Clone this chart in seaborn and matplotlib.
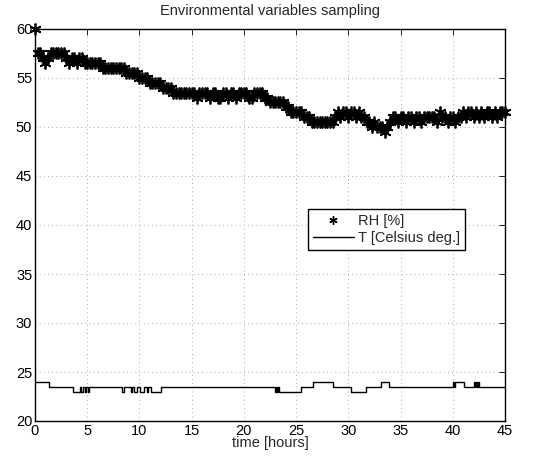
import numpy as np
import pandas as pd
import matplotlib
matplotlib.use("Agg")
import matplotlib.pyplot as plt
from matplotlib.lines import Line2D
import seaborn as sns

# ---- data ----
rh_step_hours = 0.25
rh_values = [
    60, 57.5, 57.5, 57,
    56.5, 57, 57.5, 57.5,
    57.5, 57.5, 57.5, 57.5,
    57, 56.5, 57, 57,
    56.5, 57, 57, 56.5,
    56.5, 56.5, 56.5, 56.5,
    56.5, 56.5, 56, 56,
    56, 56, 56, 56,
    56, 56, 56, 55.5,
    55.5, 55.5, 55.5, 55.5,
    55, 55, 55, 55,
    54.5, 54.5, 54.5, 54.5,
    54.5, 54, 54, 54,
    54, 53.5, 53.5, 53.5,
    53.5, 53.5, 53.5, 53.5,
    53.5, 53.5, 53, 53.5,
    53.5, 53.5, 53.5, 53,
    53.5, 53.5, 53, 53,
    53.5, 53.5, 53, 53.5,
    53.5, 53, 53.5, 53.5,
    53.5, 53.5, 53, 53,
    53.5, 53.5, 53.5, 53.5,
    53, 53, 52.5, 52.5,
    52.5, 52.5, 52.5, 52.5,
    52, 52, 51.5, 51.5,
    51.5, 51.5, 51.5, 51,
    51, 51, 50.5, 50.5,
    50.5, 50.5, 50.5, 50.5,
    50.5, 50.5, 50.5, 51,
    51.5, 51, 51.5, 51.5,
    51, 51.5, 51.5, 51,
    51.5, 51, 51, 50.5,
    50.5, 50, 50.5, 50,
    50, 50, 49.5, 50,
    50.5, 51, 51, 50.5,
    51, 51, 50.5, 51,
    51, 50.5, 51, 51,
    50.5, 51, 51, 51,
    51, 51, 50.5, 51.5,
    51, 51, 50.5, 51,
    51, 50.5, 51, 51,
    51.5, 51, 51.5, 51.5,
    51, 51.5, 51, 51.5,
    51, 51.5, 51.5, 51,
    51.5, 51, 51.5, 51.5,
    51.5,
]
rh_hours = np.arange(len(rh_values)) * rh_step_hours

t_hours = [0, 1.3, 3.6, 4.3, 4.45, 4.55, 4.75, 4.85, 5.05, 5.15,
           8.3, 8.5, 9.15, 9.25, 9.5, 9.8, 10.1, 10.4, 10.7, 10.85,
           11.15, 12.05, 23.0, 23.1, 23.2, 23.3, 23.4, 25.5, 26.6, 28.5,
           30.3, 31.7, 33.1, 33.85, 40.05, 40.15, 40.25, 41.1, 42.0, 42.1,
           42.2, 42.3, 42.4, 42.5, 45.0]
t_values = [24, 23.5, 23, 23.5, 23, 23.5, 23, 23.5, 23, 23.5,
            23, 23.5, 23, 23.5, 23, 23.5, 23, 23.5, 23, 23.5,
            23, 23.5, 23, 23.5, 23, 23.5, 23, 23.5, 24, 23.5,
            23, 23.5, 24, 23.5, 24, 23.5, 24, 23.5, 24, 23.5,
            24, 23.5, 24, 23.5, 23.5]

title = "Environmental variables sampling"
xlabel = "time [hours]"
legend_labels = ["RH [%]", "T [Celsius deg.]"]
x_ticks = [0, 5, 10, 15, 20, 25, 30, 35, 40, 45]
y_ticks = [20, 25, 30, 35, 40, 45, 50, 55, 60]

rh_df = pd.DataFrame({"hours": rh_hours, "RH": rh_values})
t_df = pd.DataFrame({"hours": t_hours, "T": t_values})

# ---- style ----
sns.set_theme(style="white")
plt.rcParams["font.family"] = ["Liberation Sans", "DejaVu Sans"]
plt.rcParams["font.size"] = 10.5

fig = plt.figure(figsize=(5.5, 4.61), dpi=100)
ax = fig.add_axes([35 / 550, 40 / 461, 470 / 550, 392 / 461])

star = (6, 2, 0)
sns.lineplot(data=rh_df, x="hours", y="RH", ax=ax, linestyle="", marker=star,
             markersize=8.5, markeredgewidth=1.3, color="black",
             markeredgecolor="black", estimator=None, sort=False,
             clip_on=False, zorder=3)
sns.lineplot(data=t_df, x="hours", y="T", ax=ax, drawstyle="steps-post",
             color="black", linewidth=1.0, estimator=None, sort=False)

ax.set_xlim(0, 45)
ax.set_ylim(20, 60)
ax.set_xticks(x_ticks)
ax.set_yticks(y_ticks)
ax.set_title(title, fontsize=10.5, pad=10)
ax.set_xlabel(xlabel, fontsize=10.5, labelpad=-1)
ax.set_ylabel("")
ax.tick_params(direction="in", length=4, width=0.6, colors="black",
               labelsize=10.5, top=True, right=True, pad=2)
ax.grid(True, linestyle=(0, (1, 4)), color="#909090", linewidth=0.6)
for s in ax.spines.values():
    s.set_color("black")
    s.set_linewidth(1.0)

handles = [Line2D([], [], linestyle="", marker=star, markersize=6,
                  markeredgewidth=1.0, color="black"),
           Line2D([], [], color="black", linewidth=1.0)]
leg = ax.legend(handles, legend_labels, loc="upper left",
                bbox_to_anchor=(0.58, 0.54), frameon=True, fancybox=False,
                framealpha=1, edgecolor="black", fontsize=10.5,
                handlelength=2.8, handletextpad=0.3, borderpad=0.35,
                labelspacing=0.15, borderaxespad=0)
leg.get_frame().set_linewidth(1.0)
leg.set_zorder(5)

fig.savefig("out.png", dpi=100)
